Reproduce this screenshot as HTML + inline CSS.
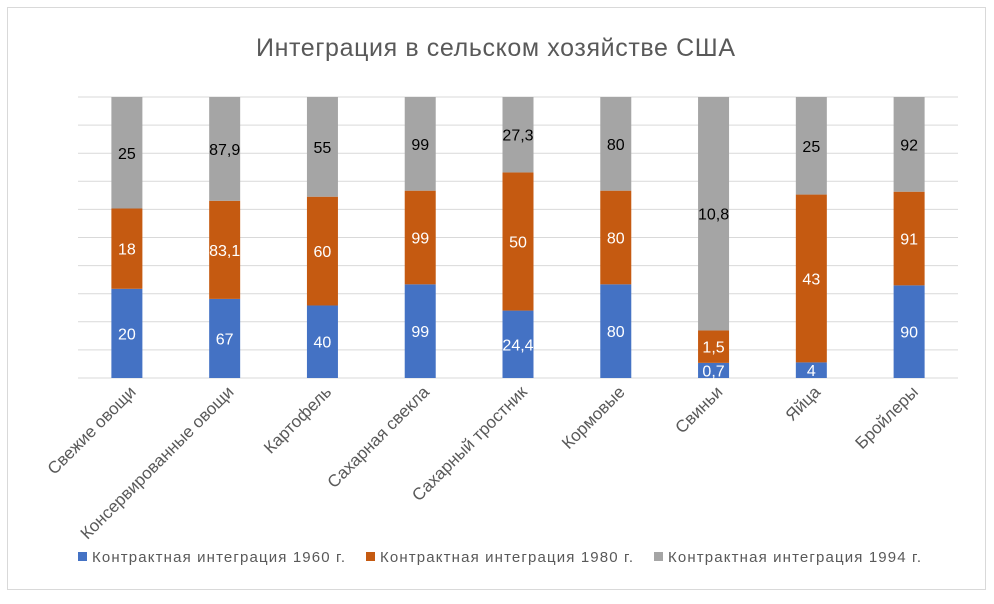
<!DOCTYPE html>
<html><head><meta charset="utf-8"><style>
body{margin:0;background:#fff;font-family:"Liberation Sans","DejaVu Sans",sans-serif}
svg text{font-family:"Liberation Sans","DejaVu Sans",sans-serif}
</style></head><body>
<svg id="chart" width="994" height="599" xmlns="http://www.w3.org/2000/svg">
<rect x="7.5" y="7.5" width="978" height="582" fill="#fff" stroke="#d9d9d9"/>
<text x="256" y="56" textLength="479" font-size="25" fill="#595959">Интеграция в сельском хозяйстве США</text>
<g id="grid"></g><g id="bars"></g><g id="xlabels"></g>
<g font-size="15" fill="#595959">
<rect x="78" y="552" width="9" height="9" fill="#4472c4"/>
<text x="92" y="562" textLength="253">Контрактная интеграция 1960 г.</text>
<rect x="366" y="552" width="9" height="9" fill="#c55a11"/>
<text x="380" y="562" textLength="253">Контрактная интеграция 1980 г.</text>
<rect x="654" y="552" width="9" height="9" fill="#a5a5a5"/>
<text x="668" y="562" textLength="253">Контрактная интеграция 1994 г.</text>
</g>
</svg>
<script>
const categories=["Свежие овощи","Консервированные овощи","Картофель","Сахарная свекла","Сахарный тростник","Кормовые","Свиньи","Яйца","Бройлеры"];
const s1960=[20,67,40,99,24.4,80,0.7,4,90];
const s1980=[18,83.1,60,99,50,80,1.5,43,91];
const s1994=[25,87.9,55,99,27.3,80,10.8,25,92];
const labels1960=["20","67","40","99","24,4","80","0,7","4","90"];
const labels1980=["18","83,1","60","99","50","80","1,5","43","91"];
const labels1994=["25","87,9","55","99","27,3","80","10,8","25","92"];
const NS="http://www.w3.org/2000/svg";
const X0=78,X1=958,Y0=378,Y1=97,bw=31;
const band=(X1-X0)/categories.length;
const xc=i=>X0+band*(i+0.5);
function mk(t,a,p){const e=document.createElementNS(NS,t);for(const k in a)e.setAttribute(k,a[k]);p.appendChild(e);return e;}
const grid=document.getElementById('grid');
for(let k=0;k<=10;k++){const y=Y0-(Y0-Y1)*k/10;const l=mk('line',{x1:X0,x2:X1,y1:y,y2:y,stroke:'#d9d9d9'},grid);

}
const bars=document.getElementById('bars');
const series=[[s1960,labels1960,'#4472c4','#fff','1960'],[s1980,labels1980,'#c55a11','#fff','1980'],[s1994,labels1994,'#a5a5a5','#000','1994']];
categories.forEach((c,i)=>{
 const tot=s1960[i]+s1980[i]+s1994[i];let acc=0;
 series.forEach(([v,lb,col,tc,nm])=>{
  const yb=Y0-(Y0-Y1)*acc/tot;acc+=v[i];const yt=Y0-(Y0-Y1)*acc/tot;
  const r=mk('rect',{x:xc(i)-bw/2,y:yt,width:bw,height:yb-yt,fill:col},bars);
  
  
  const t=mk('text',{x:xc(i),y:(yt+yb)/2+6,'text-anchor':'middle','font-size':16,fill:tc},bars);
  t.textContent=lb[i];
  
  
 });
 const ax=xc(i)+10,ay=393;
 const xl=mk('text',{x:ax,y:ay,'text-anchor':'end','font-size':17,fill:'#595959',transform:`rotate(-45 ${ax} ${ay})`},document.getElementById('xlabels'));
 xl.textContent=c;
 
 
});
</script>
</body></html>
